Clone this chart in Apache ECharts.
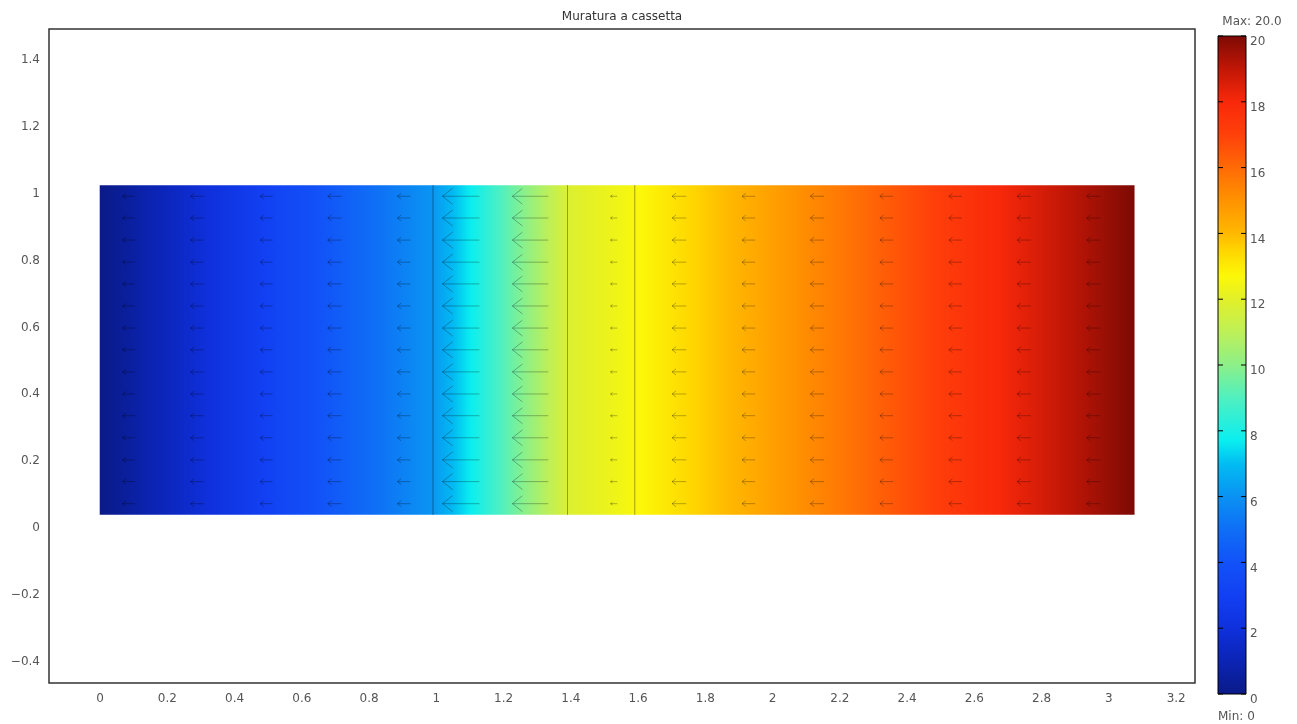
<!DOCTYPE html>
<html><head><meta charset="utf-8">
<script src="https://cdn.jsdelivr.net/npm/echarts@6/dist/echarts.min.js"></script>
<style>html,body{margin:0;padding:0;background:#fff}#c{width:1297px;height:724px}</style>
</head><body><div id="c"></div>
<script>
// ---- data ----
const chartTitle = 'Muratura a cassetta';
const maxLabel = 'Max: 20.0';
const minLabel = 'Min: 0';
const xTicks = [0, 0.2, 0.4, 0.6, 0.8, 1, 1.2, 1.4, 1.6, 1.8, 2, 2.2, 2.4, 2.6, 2.8, 3, 3.2];
const yTicks = [-0.4, -0.2, 0, 0.2, 0.4, 0.6, 0.8, 1, 1.2, 1.4];
const cbarTicks = [0, 2, 4, 6, 8, 10, 12, 14, 16, 18, 20];
// wall layers (x boundaries) and temperature at each boundary
const layerBounds = [0, 0.99, 1.39, 1.59, 3.075];
const layerTemps = [0, 6.1, 11.8, 12.6, 20];
const domainY = [0.04, 1.025];
// arrow grid (tail positions) and x-component of arrows per column
const arrowX = [0.103, 0.308, 0.513, 0.718, 0.923, 1.128, 1.333, 1.538, 1.743, 1.948, 2.153, 2.358, 2.563, 2.768, 2.973];
const arrowY = [0.073, 0.139, 0.204, 0.270, 0.336, 0.401, 0.467, 0.533, 0.598, 0.664, 0.730, 0.795, 0.861, 0.927, 0.992];
const arrowU = [-0.036, -0.039, -0.037, -0.041, -0.039, -0.110, -0.107, -0.020, -0.042, -0.039, -0.041, -0.039, -0.039, -0.041, -0.039];
// colour map
const cmapValues = [0, 1, 2, 3, 4, 5, 6, 7, 7.7, 9, 10, 11, 12, 12.7, 13.5, 14, 15, 16, 17, 18, 19, 20];
const cmapColors = ['#0a1a86','#0b24b4','#0f30dc','#1240f2','#1252f8','#0f6ef6','#0a92f2','#02bcf2','#0aeef0','#50f0c0','#8cf088','#bef058','#e2f028','#fcf808','#ffd400','#ffb800','#ff9200','#ff6a06','#ff400a','#f8280a','#c01606','#7c0a04'];
const tMin = 0, tMax = 20;

// ---- helpers ----
function hex2rgb(h){return [parseInt(h.slice(1,3),16),parseInt(h.slice(3,5),16),parseInt(h.slice(5,7),16)];}
function colorAt(v){
  if (v <= cmapValues[0]) return cmapColors[0];
  for (let i = 1; i < cmapValues.length; i++) {
    if (v <= cmapValues[i]) {
      const t = (v - cmapValues[i-1]) / (cmapValues[i] - cmapValues[i-1]);
      const a = hex2rgb(cmapColors[i-1]), b = hex2rgb(cmapColors[i]);
      return 'rgb(' + a.map((c,k)=>Math.round(c + (b[k]-c)*t)).join(',') + ')';
    }
  }
  return cmapColors[cmapColors.length-1];
}
function stopsFor(T0, T1){
  const s = [{offset:0, color:colorAt(T0)}];
  cmapValues.forEach(v => { if (v > T0 && v < T1) s.push({offset:(v-T0)/(T1-T0), color:colorAt(v)}); });
  s.push({offset:1, color:colorAt(T1)});
  return s;
}
function fmt(v){ const n = parseFloat(Number(v).toFixed(2)); return n < 0 ? '\u2212' + String(-n) : String(n); }

const layerData = [];
for (let i = 0; i < layerBounds.length - 1; i++) layerData.push([layerBounds[i], layerBounds[i+1], layerTemps[i], layerTemps[i+1], i]);
const arrowData = [];
arrowX.forEach((x, c) => arrowY.forEach(y => arrowData.push([x, y, arrowU[c]])));

const labelFont = {fontFamily:'DejaVu Sans', fontSize:12, color:'#555'};

const chart = echarts.init(document.getElementById('c'), null, {renderer:'canvas'});
chart.setOption({
  animation: false,
  backgroundColor: '#fff',
  grid: [
    {left:49, top:29, width:1146, height:654, show:true, borderColor:'#333', borderWidth:1.5, backgroundColor:'transparent'},
    {left:1218, top:36, width:28, height:658, show:false}
  ],
  xAxis: [
    {type:'value', gridIndex:0, min:-0.152, max:3.256, axisLine:{show:false, onZero:false}, axisTick:{show:false}, splitLine:{show:false},
     axisLabel:Object.assign({customValues:xTicks, formatter:fmt, margin:10}, labelFont)},
    {type:'value', gridIndex:1, min:0, max:1, show:false}
  ],
  yAxis: [
    {type:'value', gridIndex:0, min:-0.463, max:1.492, axisLine:{show:false, onZero:false}, axisTick:{show:false}, splitLine:{show:false},
     axisLabel:Object.assign({customValues:yTicks, formatter:fmt, margin:9}, labelFont)},
    {type:'value', gridIndex:1, position:'right', min:tMin, max:tMax, interval:2, z:10,
     axisLine:{show:false}, splitLine:{show:false}, axisTick:{show:false},
     axisLabel:Object.assign({customValues:cbarTicks, margin:4, verticalAlign:'top'}, labelFont)}
  ],
  graphic: [
    {type:'text', x:622, y:17, style:{text:chartTitle, textAlign:'center', textVerticalAlign:'middle', fontFamily:'DejaVu Sans', fontSize:12, fill:'#333'}},
    {type:'text', x:1252, y:22, style:{text:maxLabel, textAlign:'center', textVerticalAlign:'middle', fontFamily:'DejaVu Sans', fontSize:12, fill:'#555'}},
    {type:'text', x:1218, y:717, style:{text:minLabel, textAlign:'left', textVerticalAlign:'middle', fontFamily:'DejaVu Sans', fontSize:12, fill:'#555'}}
  ],
  series: [
    {
      type:'custom', xAxisIndex:0, yAxisIndex:0, data:layerData, silent:true,
      renderItem:function(params, api){
        const x0 = api.value(0), x1 = api.value(1), T0 = api.value(2), T1 = api.value(3), idx = api.value(4);
        const p0 = api.coord([x0, domainY[1]]);
        const p1 = api.coord([x1, domainY[0]]);
        const children = [{type:'rect', shape:{x:p0[0]-0.4, y:p0[1], width:p1[0]-p0[0]+0.8, height:p1[1]-p0[1]},
          style:{fill:new echarts.graphic.LinearGradient(0,0,1,0, stopsFor(T0,T1))}}];
        if (idx > 0) children.push({type:'line', shape:{x1:p0[0], y1:p0[1], x2:p0[0], y2:p1[1]}, style:{stroke:'rgba(0,0,0,0.35)', lineWidth:1}});
        return {type:'group', children};
      }
    },
    {
      type:'custom', xAxisIndex:0, yAxisIndex:0, data:arrowData, silent:true, z:3,
      renderItem:function(params, api){
        const x = api.value(0), y = api.value(1), u = api.value(2);
        const tail = api.coord([x, y]);
        const tip = api.coord([x + u, y]);
        const L = tail[0] - tip[0];
        const h = 0.28 * L, w = 0.22 * L;
        const st = {stroke:'rgba(0,0,0,0.28)', lineWidth:1, fill:null};
        return {type:'group', children:[
          {type:'line', shape:{x1:tail[0], y1:tail[1], x2:tip[0], y2:tip[1]}, style:st},
          {type:'polyline', shape:{points:[[tip[0]+h, tip[1]-w],[tip[0], tip[1]],[tip[0]+h, tip[1]+w]]}, style:st}
        ]};
      }
    },
    {
      type:'custom', xAxisIndex:1, yAxisIndex:1, data:[[0, tMin]], silent:true,
      renderItem:function(params, api){
        const p0 = api.coord([0, tMax]);
        const p1 = api.coord([1, tMin]);
        const stops = cmapValues.map((v,i)=>({offset:(v-tMin)/(tMax-tMin), color:cmapColors[i]}));
        const children = [{type:'rect', shape:{x:p0[0], y:p0[1], width:p1[0]-p0[0], height:p1[1]-p0[1]},
          style:{fill:new echarts.graphic.LinearGradient(0,1,0,0, stops), stroke:'#000', lineWidth:1}}];
        cbarTicks.forEach(v => {
          const a = api.coord([0, v]), b = api.coord([1, v]);
          children.push({type:'line', shape:{x1:a[0], y1:a[1], x2:a[0]+5, y2:a[1]}, style:{stroke:'#000', lineWidth:1}});
          children.push({type:'line', shape:{x1:b[0]-5, y1:b[1], x2:b[0], y2:b[1]}, style:{stroke:'#000', lineWidth:1}});
        });
        return {type:'group', children};
      }
    }
  ]
});
</script>
</body></html>
